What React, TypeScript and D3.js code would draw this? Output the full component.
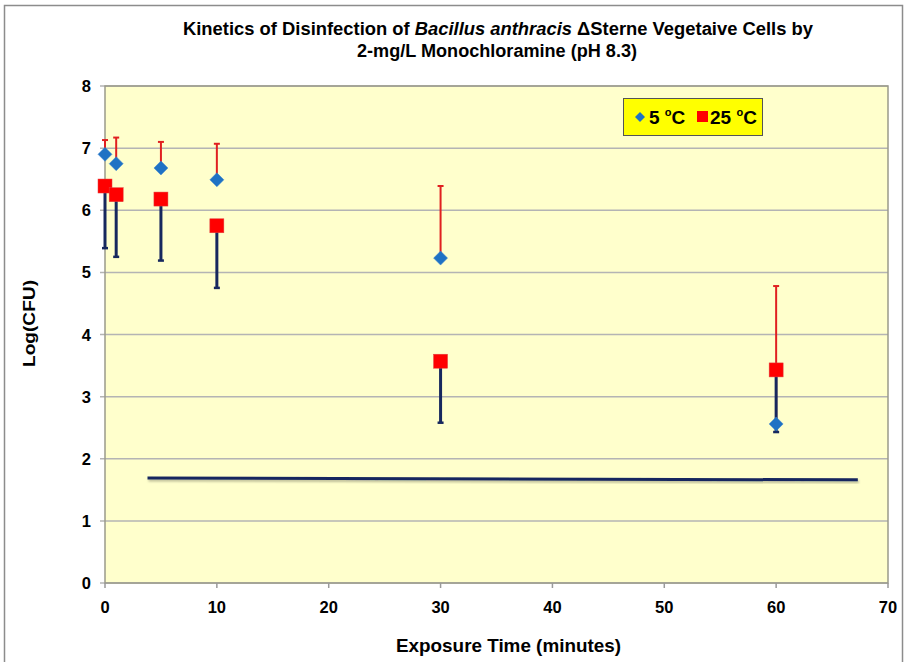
import React from "react";
import * as d3 from "d3";

const times = [0, 1, 5, 10, 30, 60];
const cold5 = [6.9, 6.75, 6.68, 6.49, 5.23, 2.56];
const cold5Upper = [7.13, 7.17, 7.1, 7.07, 6.39, 4.78];
const warm25 = [6.39, 6.25, 6.18, 5.75, 3.57, 3.43];
const warm25Lower = [5.39, 5.25, 5.19, 4.75, 2.58, 2.43];
const limitX = [3.8, 67.3];
const limitY = [1.69, 1.66];
const xTicks = [0, 10, 20, 30, 40, 50, 60, 70];
const yTicks = [0, 1, 2, 3, 4, 5, 6, 7, 8];

const W = 907, H = 662;
const L = 105, R = 888, T = 86, B = 583;
const FONT = "'Liberation Sans', Arial, sans-serif";

export default function App() {
  const x = d3.scaleLinear().domain([0, 70]).range([L, R]);
  const y = d3.scaleLinear().domain([0, 8]).range([B, T]);
  const diamond = (cx: number, cy: number, r: number) =>
    `M${cx},${cy - r}L${cx + r},${cy}L${cx},${cy + r}L${cx - r},${cy}Z`;
  const line = d3.line<number>().x((_, i) => x(limitX[i])).y((d) => y(d));
  return (
    <svg width={W} height={H} style={{ position: "absolute", left: 0, top: 0, background: "#fff" }} fontFamily={FONT}>
      <defs>
        <filter id="sh" x="-10%" y="-200%" width="120%" height="500%">
          <feDropShadow dx="1" dy="2" stdDeviation="1" floodColor="#000" floodOpacity="0.25" />
        </filter>
      </defs>
      <rect x={4.5} y={5.5} width={898} height={700} fill="#fff" stroke="#8c8c8c" strokeWidth={1.5} />
      <text x={183} y={35} fontWeight="bold" fontSize={18} textLength={630} lengthAdjust="spacingAndGlyphs">
        Kinetics of Disinfection of <tspan fontStyle="italic">Bacillus anthracis</tspan> ΔSterne Vegetaive Cells by
      </text>
      <text x={357} y={57} fontWeight="bold" fontSize={18} textLength={280} lengthAdjust="spacingAndGlyphs">
        2-mg/L Monochloramine (pH 8.3)
      </text>
      <rect x={L} y={T} width={R - L} height={B - T} fill="#FFFFCC" />
      {yTicks.map((t) => (
        <g key={t}>
          <line x1={L - 5} x2={R} y1={y(t)} y2={y(t)} stroke="#b4b4b4" strokeWidth={1.5} />
          <text x={91} y={y(t) + 6} textAnchor="end" fontWeight="bold" fontSize={16.5}>{t}</text>
        </g>
      ))}
      <rect x={L} y={T} width={R - L} height={B - T} fill="none" stroke="#9a9a8a" strokeWidth={1.5} />
      {xTicks.map((t) => (
        <g key={t}>
          <line x1={x(t)} x2={x(t)} y1={B} y2={B + 5} stroke="#9a9a9a" strokeWidth={1.5} />
          <text x={x(t)} y={613} textAnchor="middle" fontWeight="bold" fontSize={16.5}>{t}</text>
        </g>
      ))}
      <text x={396} y={652} fontWeight="bold" fontSize={18} textLength={225} lengthAdjust="spacingAndGlyphs">Exposure Time (minutes)</text>
      <text transform={`translate(35,367) rotate(-90)`} fontWeight="bold" fontSize={17} textLength={87} lengthAdjust="spacingAndGlyphs">Log(CFU)</text>
      <path d={line(limitY) || ""} stroke="#17285e" strokeWidth={3} fill="none" filter="url(#sh)" />
      {times.map((t, i) => (
        <g key={"r" + t}>
          <line x1={x(t)} x2={x(t)} y1={y(cold5[i])} y2={y(cold5Upper[i])} stroke="#e02020" strokeWidth={2} />
          <line x1={x(t) - 3} x2={x(t) + 3} y1={y(cold5Upper[i])} y2={y(cold5Upper[i])} stroke="#e02020" strokeWidth={2} />
        </g>
      ))}
      {times.map((t, i) => (
        <g key={"n" + t}>
          <line x1={x(t)} x2={x(t)} y1={y(warm25[i])} y2={y(warm25Lower[i])} stroke="#17285e" strokeWidth={3} />
          <line x1={x(t) - 3} x2={x(t) + 3} y1={y(warm25Lower[i])} y2={y(warm25Lower[i])} stroke="#17285e" strokeWidth={2.5} />
        </g>
      ))}
      {times.map((t, i) => (
        <path key={"d" + t} d={diamond(x(t), y(cold5[i]), 7)} fill="#1f72c4" stroke="#3a85d0" strokeWidth={0.5} />
      ))}
      {times.map((t, i) => (
        <rect key={"s" + t} x={x(t) - 7} y={y(warm25[i]) - 7} width={14} height={14} fill="#ff0000" stroke="#e04040" strokeWidth={0.5} />
      ))}
      <g>
        <rect x={623.5} y={98.5} width={139} height={37} fill="#ffff00" stroke="#555" strokeWidth={1} />
        <path d={diamond(640, 117, 5)} fill="#1f72c4" />
        <text x={649} y={124} fontWeight="bold" fontSize={19}>5 <tspan fontSize={11} dy={-8}>o</tspan><tspan dy={8}>C</tspan></text>
        <rect x={697} y={111} width={11} height={11} fill="#ff0000" />
        <text x={710} y={124} fontWeight="bold" fontSize={19}>25 <tspan fontSize={11} dy={-8}>o</tspan><tspan dy={8}>C</tspan></text>
      </g>
    </svg>
  );
}
